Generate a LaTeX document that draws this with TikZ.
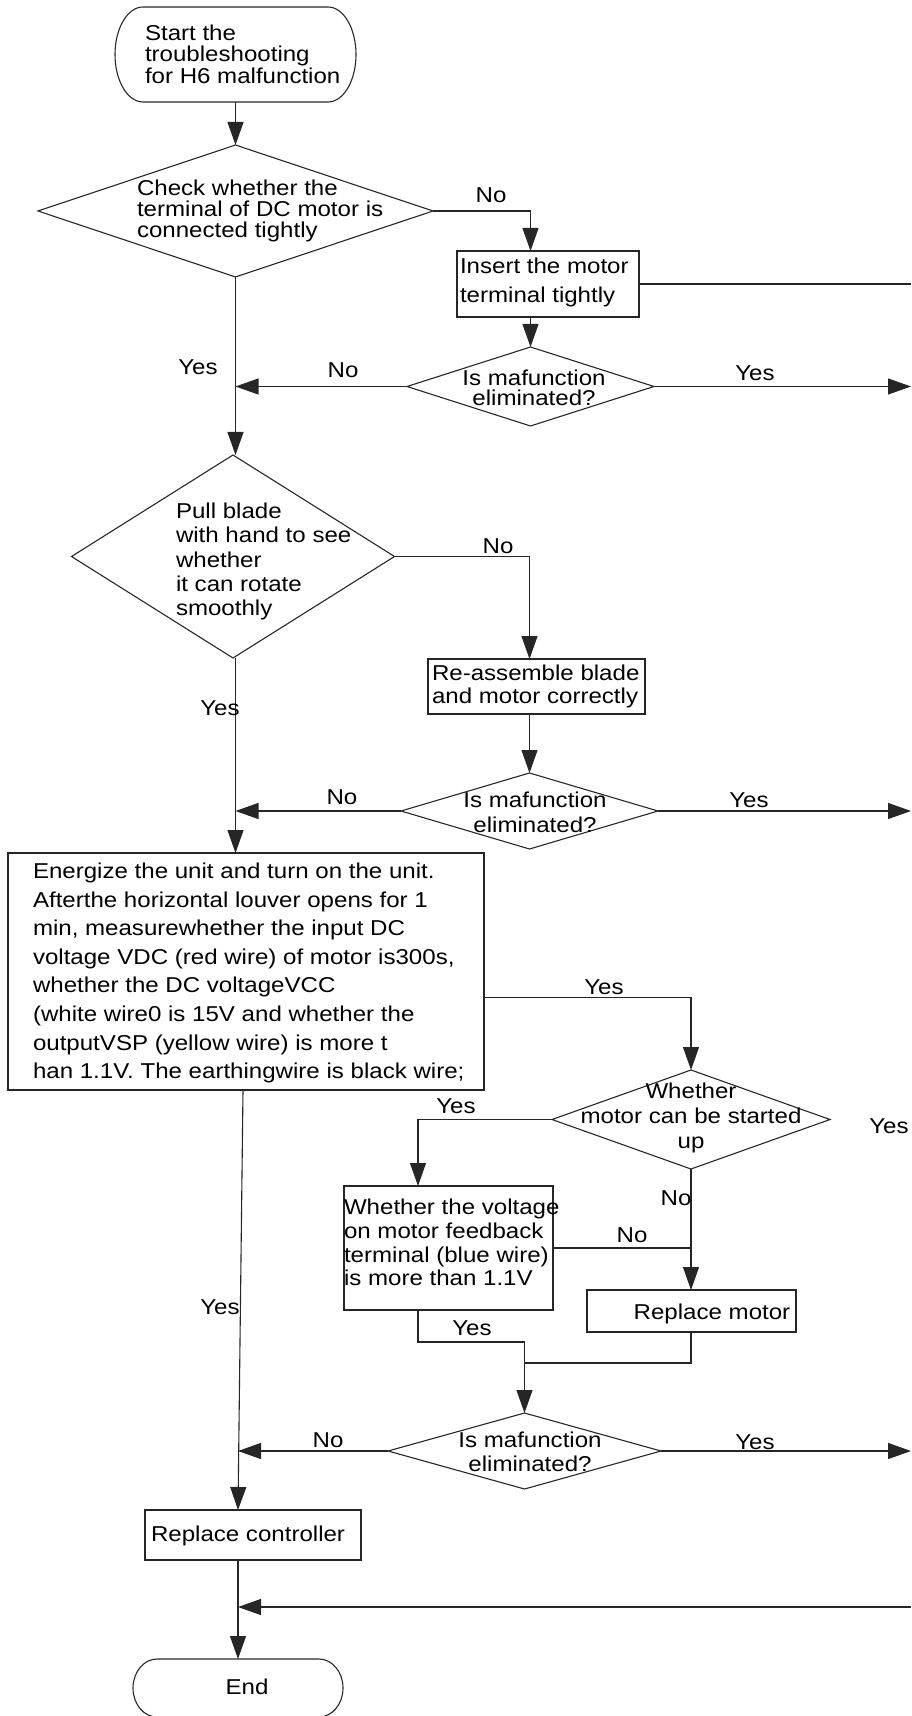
\documentclass[tikz,border=0pt]{standalone}
\usepackage{fontspec}
\setmainfont{Liberation Sans}[FakeStretch=1.12]
\usetikzlibrary{shapes.geometric,arrows.meta}
\newcommand\fsz[1]{\fontsize{10.75pt}{#1pt}\selectfont}
\begin{document}
\begin{tikzpicture}[x=0.5pt,y=-0.5pt,
  ln/.style={line width=0.55pt, draw=black!85},
  arr/.style={ln, -{Triangle[length=11.5pt,width=8pt]}},
  dia/.style={diamond, ln, inner sep=0pt, outer sep=0pt},
  box/.style={rectangle, ln, inner sep=0pt, outer sep=0pt},
  term/.style={rectangle, draw=none, inner sep=0pt, outer sep=0pt},
  txt/.style={inner sep=0pt, outer sep=0pt, text=black},
  lbl/.style={txt, font=\fsz{12}},
]
\useasboundingbox (0,0) rectangle (911,1716);

% ---------- shapes ----------
\node[term, minimum width=120.5pt, minimum height=47.5pt] (start) at (235.5,54.5) {};
\draw[ln] ([xshift=14pt]start.north west) -- ([xshift=-14pt]start.north east)
  arc[start angle=90,end angle=-90,x radius=14pt,y radius=23.75pt]
  -- ([xshift=14pt]start.south west)
  arc[start angle=270,end angle=90,x radius=14pt,y radius=23.75pt] -- cycle;

\node[dia, minimum width=197.5pt, minimum height=66pt] (d1) at (235.5,211) {};
\node[box, minimum width=91pt, minimum height=33pt] (ins) at (548,284) {};
\node[dia, minimum width=123.5pt, minimum height=39.5pt] (d2) at (530.5,386.5) {};
\node[dia, minimum width=161.5pt, minimum height=101.5pt] (d3) at (233,556.5) {};
\node[box, minimum width=108.5pt, minimum height=27.5pt] (box2) at (536.5,686.5) {};
\node[dia, minimum width=128.5pt, minimum height=38pt] (d4) at (529.5,811) {};
\node[box, minimum width=238pt, minimum height=118.5pt] (en) at (246,971.5) {};
\node[dia, minimum width=139pt, minimum height=49.5pt] (d5) at (691,1119.5) {};
\node[box, minimum width=104.5pt, minimum height=62pt] (box3) at (448.5,1248) {};
\node[box, minimum width=104.5pt, minimum height=21pt] (box4) at (691.5,1311) {};
\node[dia, minimum width=136.5pt, minimum height=38pt] (d6) at (524.5,1451) {};
\node[box, minimum width=108pt, minimum height=25pt] (ctrl) at (253,1535) {};

\node[term, minimum width=105pt, minimum height=29pt] (endn) at (238,1688) {};
\draw[ln] ([xshift=12pt]endn.north west) -- ([xshift=-12pt]endn.north east)
  arc[start angle=90,end angle=-90,x radius=12pt,y radius=14.5pt]
  -- ([xshift=12pt]endn.south west)
  arc[start angle=270,end angle=90,x radius=12pt,y radius=14.5pt] -- cycle;

% ---------- texts ----------
\node[txt, font=\fsz{10.75}, align=left, anchor=west] (tstart) at (145,54)
  {Start the\\troubleshooting\\for H6 malfunction};
\node[txt, font=\fsz{10.5}, align=left, anchor=west] (td1) at (137,211)
  {Check whether the\\terminal of DC motor is\\connected tightly};
\node[txt, font=\fsz{14.25}, align=left, anchor=west] (tins) at (460,282.5)
  {Insert the motor\\terminal tightly};
\node[txt, font=\fsz{10}, align=center] (td2) at (534,388)
  {Is mafunction\\eliminated?};
\node[txt, font=\fsz{12.1}, align=left, anchor=west] (td3) at (176,561.5)
  {Pull blade\\with hand to see\\whether\\it can rotate\\smoothly};
\node[txt, font=\fsz{11.5}, align=left, anchor=west] (tbox2) at (432,686.5)
  {Re-assemble blade\\and motor correctly};
\node[txt, font=\fsz{12.5}, align=center] (td4) at (535,812)
  {Is mafunction\\eliminated?};
\node[txt, font=\fsz{14.3}, align=left, anchor=west] (ten) at (33,973)
  {Energize the unit and turn on the unit.\\
   Afterthe horizontal louver opens for 1\\
   min, measurewhether the input DC\\
   voltage VDC (red wire) of motor is300s,\\
   whether the DC voltageVCC\\
   (white wire0 is 15V and whether the\\
   outputVSP (yellow wire) is more t\\
   han 1.1V. The earthingwire is black wire;};
\node[txt, font=\fsz{12.5}, align=center] (td5) at (691,1118)
  {Whether\\motor can be started\\up};
\node[txt, font=\fsz{11.85}, align=left, anchor=west] (tbox3) at (344,1242.5)
  {Whether the voltage\\on motor feedback\\terminal (blue wire)\\is more than 1.1V};
\node[txt, font=\fsz{12}] (tbox4) at (712,1314) {Replace motor};
\node[txt, font=\fsz{12}, align=center] (td6) at (530,1452)
  {Is mafunction\\eliminated?};
\node[txt, font=\fsz{12}, anchor=west] (tctrl) at (151,1536) {Replace controller};
\node[txt, font=\fsz{12}] (tend) at (247,1687) {End};

% ---------- free ends on the right edge ----------
\coordinate (e1) at (911,284);
\coordinate (e2) at (911,386.5);
\coordinate (e3) at (911,811);
\coordinate (e4) at (911,1451);
\coordinate (e5) at (911,1607);
\coordinate (j1) at (524.5,1342);
\coordinate (j2) at (524.5,1363);

% ---------- connectors ----------
\draw[arr] (start.south) -- (d1.north);
\draw[arr] (d1.east) -| (d2.north |- ins.north);
\draw[ln] (ins.east) -- (e1);
\draw[arr] (d2.north |- ins.south) -- (d2.north);
\draw[arr] (d2.west) -- (d2.west -| d1.south);
\draw[arr] (d2.east) -- (e2);
\draw[arr] (d1.south) -- (d1.south |- d3.north);

\draw[arr] (d3.east) -| (d4.north |- box2.north);
\draw[arr] (d4.north |- box2.south) -- (d4.north);
\draw[arr] (d4.west) -- (d4.west -| d1.south);
\draw[arr] (d4.east) -- (e3);
\draw[arr] (d1.south |- d3.south) -- (d1.south |- en.north);

\draw[arr] ([yshift=-13pt]en.east) -| (d5.north);
\draw[arr] (d5.west) -| ([xshift=-15.25pt]box3.north);
\draw[arr] (d5.south) -- (d5.south |- box4.north);
\draw[ln] (box3.east) -- (box3.east -| d5.south);
\draw[ln] ([xshift=-15.25pt]box3.south) |- (j1);
\draw[ln] (d5.south |- box4.south) |- (j2);
\draw[arr] (j1) -- (d6.north);
\draw[arr] (d6.west) -- (d6.west -| endn.north);
\draw[arr] (d6.east) -- (e4);

\draw[arr] ([xshift=-1.5pt]en.south) -- ([xshift=-7.5pt]ctrl.north);
\draw[arr] ([xshift=-7.5pt]ctrl.south) -- (endn.north);
\draw[arr] (e5) -- (e5 -| endn.north);

% ---------- labels ----------
\node[lbl] (l1) at (491,195) {No};
\node[lbl] (l2) at (198,367) {Yes};
\node[lbl] (l3) at (343,370) {No};
\node[lbl] (l4) at (755,373) {Yes};
\node[lbl] (l5) at (498,546) {No};
\node[lbl] (l6) at (220,708) {Yes};
\node[lbl] (l7) at (342,797) {No};
\node[lbl] (l8) at (749,800) {Yes};
\node[lbl] (l9) at (604,987) {Yes};
\node[lbl] (l10) at (456,1106) {Yes};
\node[lbl] (l11) at (889,1126) {Yes};
\node[lbl] (l12) at (676,1198) {No};
\node[lbl] (l13) at (632,1235) {No};
\node[lbl] (l14) at (220,1307) {Yes};
\node[lbl] (l15) at (472,1328) {Yes};
\node[lbl] (l16) at (328,1440) {No};
\node[lbl] (l17) at (755,1442) {Yes};
\end{tikzpicture}
\end{document}
